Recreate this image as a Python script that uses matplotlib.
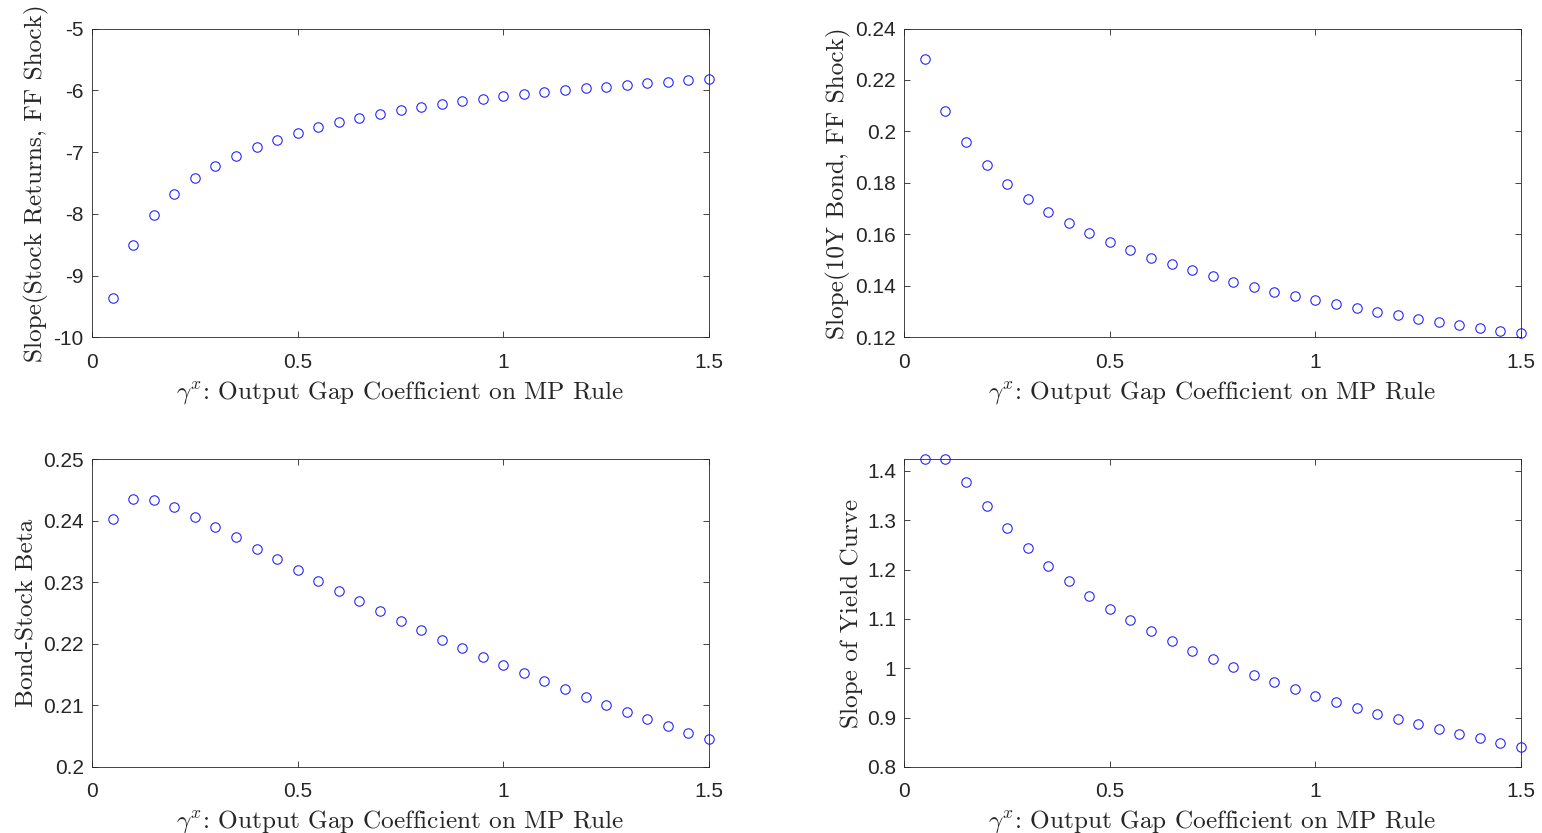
import numpy as np
import matplotlib
matplotlib.use("Agg")
import matplotlib.pyplot as plt

gamma_x = [0.05, 0.10, 0.15, 0.20, 0.25, 0.30, 0.35, 0.40, 0.45, 0.50,
           0.55, 0.60, 0.65, 0.70, 0.75, 0.80, 0.85, 0.90, 0.95, 1.00,
           1.05, 1.10, 1.15, 1.20, 1.25, 1.30, 1.35, 1.40, 1.45, 1.50]

slope_stock_ff = [-9.37, -8.50, -8.02, -7.68, -7.42, -7.22, -7.06, -6.92, -6.80, -6.69,
                  -6.60, -6.52, -6.45, -6.39, -6.32, -6.27, -6.22, -6.17, -6.14, -6.10,
                  -6.06, -6.03, -5.99, -5.97, -5.94, -5.91, -5.89, -5.86, -5.84, -5.82]

slope_bond_ff = [0.2280, 0.2080, 0.1958, 0.1868, 0.1797, 0.1737, 0.1687, 0.1643, 0.1604, 0.1569,
                 0.1538, 0.1509, 0.1483, 0.1460, 0.1437, 0.1416, 0.1397, 0.1377, 0.1360, 0.1344,
                 0.1328, 0.1314, 0.1298, 0.1285, 0.1272, 0.1259, 0.1248, 0.1237, 0.1226, 0.1217]

bond_stock_beta = [0.2403, 0.2436, 0.2434, 0.2422, 0.2407, 0.2390, 0.2373, 0.2355, 0.2338, 0.2320,
                   0.2303, 0.2286, 0.2269, 0.2253, 0.2237, 0.2223, 0.2207, 0.2193, 0.2179, 0.2165,
                   0.2152, 0.2139, 0.2126, 0.2114, 0.2101, 0.2089, 0.2078, 0.2067, 0.2056, 0.2045]

slope_yield_curve = [1.4235, 1.4235, 1.3769, 1.3280, 1.2838, 1.2440, 1.2080, 1.1765, 1.1475, 1.1210,
                     1.0976, 1.0760, 1.0550, 1.0360, 1.0186, 1.0018, 0.9862, 0.9714, 0.9579, 0.9444,
                     0.9316, 0.9200, 0.9080, 0.8972, 0.8870, 0.8769, 0.8668, 0.8580, 0.8492, 0.8405]

x_ticks = [0, 0.5, 1, 1.5]
x_ticklabels = ["0", "0.5", "1", "1.5"]
xlabel = r"$\gamma^x$: Output Gap Coefficient on MP Rule"

panels = [
    dict(y=slope_stock_ff, ylabel="Slope(Stock Returns, FF Shock)",
         ylim=(-10, -5), yticks=[-10, -9, -8, -7, -6, -5],
         yticklabels=["-10", "-9", "-8", "-7", "-6", "-5"]),
    dict(y=slope_bond_ff, ylabel="Slope(10Y Bond, FF Shock)",
         ylim=(0.12, 0.24), yticks=[0.12, 0.14, 0.16, 0.18, 0.2, 0.22, 0.24],
         yticklabels=["0.12", "0.14", "0.16", "0.18", "0.2", "0.22", "0.24"]),
    dict(y=bond_stock_beta, ylabel="Bond-Stock Beta",
         ylim=(0.2, 0.25), yticks=[0.2, 0.21, 0.22, 0.23, 0.24, 0.25],
         yticklabels=["0.2", "0.21", "0.22", "0.23", "0.24", "0.25"]),
    dict(y=slope_yield_curve, ylabel="Slope of Yield Curve",
         ylim=(0.8, 1.4235), yticks=[0.8, 0.9, 1.0, 1.1, 1.2, 1.3, 1.4],
         yticklabels=["0.8", "0.9", "1", "1.1", "1.2", "1.3", "1.4"]),
]

plt.rcParams['mathtext.fontset'] = 'cm'

W, H = 1542, 833
fig = plt.figure(figsize=(W / 100, H / 100), dpi=100)

boxes = [(92, 28.5, 709, 337.3), (904.3, 28.5, 1521, 337.3),
         (92, 459.3, 709, 767), (904.3, 459.3, 1521, 767)]

axcol = '#262626'
for p, (x0, y0, x1, y1) in zip(panels, boxes):
    ax = fig.add_axes([x0 / W, 1 - y1 / H, (x1 - x0) / W, (y1 - y0) / H])
    ax.plot(gamma_x, p["y"], linestyle='none', marker='o', markersize=6.8,
            markerfacecolor='none', markeredgecolor='#1a1aff', markeredgewidth=0.75,
            clip_on=False)
    ax.set_xlim(0, 1.5)
    ax.set_ylim(*p["ylim"])
    ax.set_xticks(x_ticks)
    ax.set_xticklabels(x_ticklabels)
    ax.set_yticks(p["yticks"])
    ax.set_yticklabels(p["yticklabels"])
    ax.tick_params(direction='in', length=4.5, width=0.6, color=axcol,
                   top=True, right=True, labelsize=15, labelcolor=axcol)
    ax.tick_params(axis='x', pad=11)
    ax.tick_params(axis='y', pad=6)
    for lab in ax.get_xticklabels() + ax.get_yticklabels():
        lab.set_family(['Liberation Sans', 'DejaVu Sans'])
    for s in ax.spines.values():
        s.set_color(axcol)
        s.set_linewidth(0.6)
    ax.set_xlabel(xlabel, family='cmr10', fontsize=18.2, color=axcol, labelpad=5)
    ax.set_ylabel(p["ylabel"], family='cmr10', fontsize=18.2, color=axcol, labelpad=3)

fig.savefig("out.png", dpi=100)
